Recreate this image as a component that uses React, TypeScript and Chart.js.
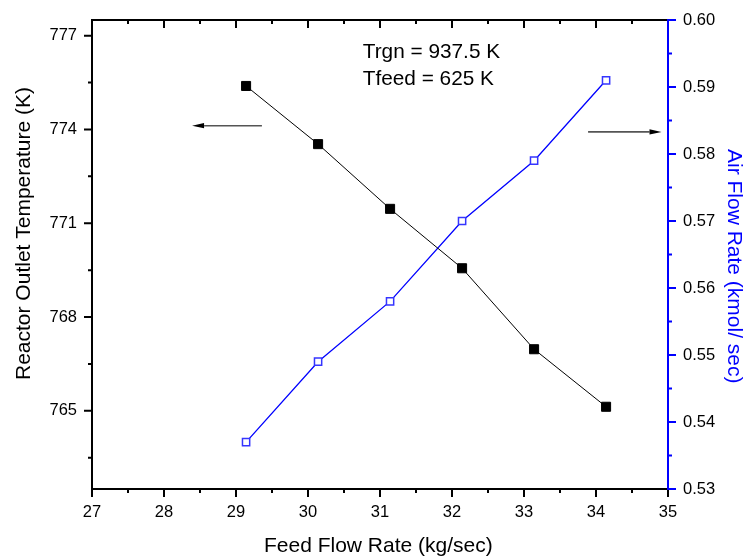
import React, { useEffect, useRef } from 'react';
import { Chart, registerables } from 'chart.js';

Chart.register(...registerables);

// ---- data ----
const feedFlow = [29.14, 30.14, 31.14, 32.14, 33.14, 34.14];
const outletTemp = [775.39, 773.53, 771.46, 769.56, 766.97, 765.13];
const airFlow = [0.537, 0.549, 0.558, 0.57, 0.579, 0.591];

// ---- axes ----
const xRange = [27, 35];
const xTicks = [27, 28, 29, 30, 31, 32, 33, 34, 35];
const xMinorTicks = [27.5, 28.5, 29.5, 30.5, 31.5, 32.5, 33.5, 34.5];
const tempRange = [762.5, 777.5];
const tempTicks = [765, 768, 771, 774, 777];
const tempMinorTicks = [763.5, 766.5, 769.5, 772.5, 775.5];
const airRange = [0.53, 0.6];
const airTicks = [0.53, 0.54, 0.55, 0.56, 0.57, 0.58, 0.59, 0.6];
const airMinorTicks = [0.535, 0.545, 0.555, 0.565, 0.575, 0.585, 0.595];

// ---- texts ----
const xTitle = 'Feed Flow Rate (kg/sec)';
const leftTitle = 'Reactor Outlet Temperature (K)';
const rightTitle = 'Air Flow Rate (kmol/ sec)';
const noteLines = ['Trgn = 937.5 K', 'Tfeed = 625 K'];
const noteX = 30.76;
const noteY = [776.29, 775.42];

// ---- arrows (data coordinates: tail x, tip x, y) ----
const leftArrow = { tail: 29.36, tip: 28.39, y: 774.12 };
const rightArrow = { tail: 33.89, tip: 34.91, y: 0.5833 };

const FONT = '"Liberation Sans", Arial, Helvetica, sans-serif';
const BLUE = '#0000ff';

const originPlugin = {
  id: 'originAxes',
  beforeDatasetsDraw(chart: any) {
    const { ctx, chartArea: a, scales } = chart;
    const sx = scales.x, sl = scales.y, sr = scales.y1;
    ctx.save();
    ctx.lineWidth = 2;
    ctx.lineCap = 'butt';
    const seg = (x1: number, y1: number, x2: number, y2: number) => {
      ctx.moveTo(x1, y1);
      ctx.lineTo(x2, y2);
    };
    ctx.strokeStyle = '#000';
    ctx.beginPath();
    seg(a.left - 1, a.top, a.right, a.top);
    seg(a.left - 1, a.bottom, a.right, a.bottom);
    seg(a.left, a.top - 1, a.left, a.bottom + 1);
    xTicks.forEach((v) => {
      const p = sx.getPixelForValue(v);
      seg(p, a.bottom, p, a.bottom + 8);
      if (p > a.left + 2 && p < a.right - 2) seg(p, a.top, p, a.top + 8);
    });
    xMinorTicks.forEach((v) => {
      const p = sx.getPixelForValue(v);
      seg(p, a.bottom, p, a.bottom + 4);
      seg(p, a.top, p, a.top + 4);
    });
    tempTicks.forEach((v) => {
      const p = sl.getPixelForValue(v);
      seg(a.left, p, a.left - 8, p);
    });
    tempMinorTicks.forEach((v) => {
      const p = sl.getPixelForValue(v);
      seg(a.left, p, a.left - 4, p);
    });
    ctx.stroke();

    ctx.strokeStyle = BLUE;
    ctx.beginPath();
    seg(a.right, a.top - 1, a.right, a.bottom + 1);
    airTicks.forEach((v) => {
      const p = sr.getPixelForValue(v);
      seg(a.right, p, a.right + 8, p);
    });
    airMinorTicks.forEach((v) => {
      const p = sr.getPixelForValue(v);
      seg(a.right, p, a.right + 4, p);
    });
    ctx.stroke();
    ctx.restore();
  },
  afterDatasetsDraw(chart: any) {
    const { ctx, chartArea: a, scales } = chart;
    const sx = scales.x, sl = scales.y, sr = scales.y1;
    ctx.save();

    // arrows
    const arrow = (tailX: number, tipX: number, y: number) => {
      const dir = tipX > tailX ? 1 : -1;
      const head = 12;
      ctx.strokeStyle = '#555';
      ctx.lineWidth = 1.6;
      ctx.beginPath();
      ctx.moveTo(tailX, y);
      ctx.lineTo(tipX - dir * head, y);
      ctx.stroke();
      ctx.fillStyle = '#000';
      ctx.beginPath();
      ctx.moveTo(tipX, y);
      ctx.lineTo(tipX - dir * head, y - 2.6);
      ctx.lineTo(tipX - dir * head, y + 2.6);
      ctx.closePath();
      ctx.fill();
    };
    arrow(sx.getPixelForValue(leftArrow.tail), sx.getPixelForValue(leftArrow.tip), sl.getPixelForValue(leftArrow.y));
    arrow(sx.getPixelForValue(rightArrow.tail), sx.getPixelForValue(rightArrow.tip), sr.getPixelForValue(rightArrow.y));

    // annotation
    ctx.fillStyle = '#000';
    ctx.font = `20.8px ${FONT}`;
    ctx.textAlign = 'left';
    ctx.textBaseline = 'alphabetic';
    noteLines.forEach((t, i) => {
      ctx.fillText(t, sx.getPixelForValue(noteX), sl.getPixelForValue(noteY[i]));
    });

    // axis titles
    ctx.font = `21px ${FONT}`;
    ctx.fillStyle = '#000';
    ctx.fillText(xTitle, 264, 551.5);

    ctx.save();
    ctx.translate(30, 380);
    ctx.rotate(-Math.PI / 2);
    ctx.fillText(leftTitle, 0, 0);
    ctx.restore();

    ctx.save();
    ctx.translate(728, 149);
    ctx.rotate(Math.PI / 2);
    ctx.fillStyle = BLUE;
    ctx.fillText(rightTitle, 0, 0);
    ctx.restore();

    ctx.restore();
  },
};

export default function App() {
  const ref = useRef<HTMLCanvasElement | null>(null);

  useEffect(() => {
    if (!ref.current) return;
    const tickFont = { family: FONT, size: 16.5 };
    const chart = new Chart(ref.current, {
      type: 'line',
      data: {
        datasets: [
          {
            label: leftTitle,
            data: feedFlow.map((x, i) => ({ x, y: outletTemp[i] })),
            yAxisID: 'y',
            borderColor: '#000',
            borderWidth: 1,
            pointStyle: 'rect',
            pointRadius: 6.4,
            pointBackgroundColor: '#000',
            pointBorderColor: '#000',
            pointBorderWidth: 1,
            tension: 0,
          },
          {
            label: rightTitle,
            data: feedFlow.map((x, i) => ({ x, y: airFlow[i] })),
            yAxisID: 'y1',
            borderColor: BLUE,
            borderWidth: 1.3,
            pointStyle: 'rect',
            pointRadius: 5.1,
            pointBackgroundColor: '#fff',
            pointBorderColor: '#3535ff',
            pointBorderWidth: 1.5,
            tension: 0,
          },
        ],
      },
      options: {
        responsive: false,
        animation: false,
        layout: { padding: { top: 20, left: 0, right: 0, bottom: 0 } },
        plugins: { legend: { display: false }, tooltip: { enabled: false } },
        scales: {
          x: {
            type: 'linear',
            position: 'bottom',
            min: xRange[0],
            max: xRange[1],
            afterBuildTicks: (s: any) => {
              s.ticks = xTicks.map((value) => ({ value }));
            },
            afterFit: (s: any) => {
              s.height = 69;
            },
            ticks: {
              font: tickFont,
              color: '#000',
              padding: 6,
              maxRotation: 0,
              autoSkip: false,
              callback: (v: any) => String(v),
            },
            grid: { display: false, drawTicks: true, tickLength: 8 },
            border: { display: false },
          },
          y: {
            type: 'linear',
            position: 'left',
            min: tempRange[0],
            max: tempRange[1],
            afterBuildTicks: (s: any) => {
              s.ticks = tempTicks.map((value) => ({ value }));
            },
            afterFit: (s: any) => {
              s.width = 92;
            },
            ticks: {
              font: tickFont,
              color: '#000',
              padding: 7,
              autoSkip: false,
              callback: (v: any) => String(v),
            },
            grid: { display: false, drawTicks: true, tickLength: 8 },
            border: { display: false },
          },
          y1: {
            type: 'linear',
            position: 'right',
            min: airRange[0],
            max: airRange[1],
            afterBuildTicks: (s: any) => {
              s.ticks = airTicks.map((value) => ({ value }));
            },
            afterFit: (s: any) => {
              s.width = 79;
            },
            ticks: {
              font: tickFont,
              color: '#000',
              padding: 7,
              autoSkip: false,
              callback: (v: any) => Number(v).toFixed(2),
            },
            grid: { display: false, drawTicks: true, tickLength: 8 },
            border: { display: false },
          },
        },
      },
      plugins: [originPlugin],
    } as any);
    return () => chart.destroy();
  }, []);

  return (
    <div style={{ position: 'absolute', left: 0, top: 0, width: 747, height: 558, background: '#fff' }}>
      <canvas ref={ref} width={747} height={558} />
    </div>
  );
}
